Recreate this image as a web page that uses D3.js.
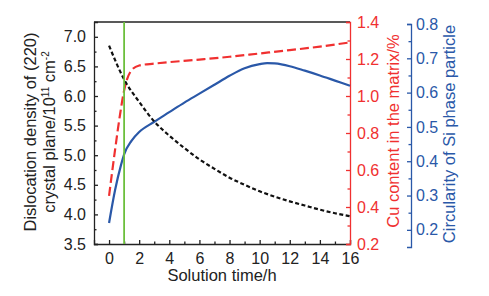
<!DOCTYPE html>
<html>
<head>
<meta charset="UTF-8" />
<title>solution time chart</title>
<script src="https://d3js.org/d3.v7.min.js"></script>
<style>
  body { margin: 0; background: #fff; }
  text { font-family: "Liberation Sans", Arial, sans-serif; }
</style>
</head>
<body>
<svg id="chart" width="489" height="296"></svg>
<script>
// data
var timeDis = [0, 1, 2, 3, 4, 5, 6, 7, 8, 9, 10, 11, 12, 13, 14, 15, 16]
var dislocation = [6.85, 6.28, 5.9, 5.57, 5.33, 5.12, 4.93, 4.77, 4.62, 4.5, 4.39, 4.3, 4.22, 4.15, 4.08, 4.02, 3.97]

var timeCu = [0, 0.4, 0.73, 1, 1.5, 2, 3, 4, 6, 8, 10, 12, 14, 16]
var cuContent = [0.46, 0.71, 0.9, 1.03, 1.14, 1.165, 1.175, 1.183, 1.197, 1.212, 1.23, 1.248, 1.267, 1.29]

var timeCirc = [0, 0.4, 0.8, 1, 1.5, 2, 3, 4, 5, 6, 7, 8, 9, 10, 10.5, 11, 12, 13, 14, 15, 16]
var circularity = [0.22, 0.316, 0.39, 0.42, 0.46, 0.485, 0.515, 0.543, 0.571, 0.597, 0.623, 0.649, 0.671, 0.683, 0.686, 0.685, 0.677, 0.664, 0.65, 0.635, 0.62]

var markTime = 1

var xTicks = [0, 2, 4, 6, 8, 10, 12, 14, 16]
var xMinor = [1, 3, 5, 7, 9, 11, 13, 15]
var leftTicks = [3.5, 4.0, 4.5, 5.0, 5.5, 6.0, 6.5, 7.0]
var leftMinor = [3.75, 4.25, 4.75, 5.25, 5.75, 6.25, 6.75]
var redTicks = [0.2, 0.4, 0.6, 0.8, 1.0, 1.2, 1.4]
var redMinor = [0.3, 0.5, 0.7, 0.9, 1.1, 1.3]
var blueTicks = [0.2, 0.3, 0.4, 0.5, 0.6, 0.7, 0.8]
var blueMinor = [0.25, 0.35, 0.45, 0.55, 0.65, 0.75]

var red = "#f03030", blue = "#2a58a8", green = "#6cbf3c", dark = "#222"

var svg = d3.select("#chart")
var pL = 94, pR = 350, pT = 22, pB = 244

var x = d3.scaleLinear().domain([-1, 16]).range([pL, pR])
var yDis = d3.scaleLinear().domain([3.5, 7.25]).range([pB, pT])
var yCu = d3.scaleLinear().domain([0.2, 1.4]).range([pB, pT])
var yCirc = d3.scaleLinear().domain([0.15, 0.8]).range([247, 24])

// draws an axis with major + minor ticks in one colour
function drawAxis(axisFn, scale, pos, major, minor, fmt, pad, color) {
  var g = svg.append("g").attr("transform", pos)
  g.append("g").call(axisFn(scale).tickValues(major).tickSize(-4).tickPadding(pad).tickFormat(fmt))
  g.append("g").call(axisFn(scale).tickValues(minor).tickSize(-2.5).tickFormat(""))
    .call(s => s.select(".domain").remove())
  g.selectAll("path,line").style("stroke", color).style("stroke-width", 1.3)
  g.selectAll("text").style("fill", color).style("font-size", "16px")
  return g
}

// top frame line
svg.append("line").attr("x1", pL).attr("x2", pR).attr("y1", pT).attr("y2", pT)
  .style("stroke", dark).style("stroke-width", 1.3)

drawAxis(d3.axisBottom, x, `translate(0,${pB})`, xTicks, xMinor, d3.format("d"), 9, dark)
drawAxis(d3.axisLeft, yDis, `translate(${pL},0)`, leftTicks, leftMinor, d3.format(".1f"), 8, dark)
drawAxis(d3.axisRight, yCu, `translate(${pR},0)`, redTicks, redMinor, d3.format(".1f"), 7, red)
drawAxis(d3.axisRight, yCirc, `translate(411,0)`, blueTicks, blueMinor, d3.format(".1f"), 5, blue)

// curves
var lineDis = d3.line().x(d => x(d[0])).y(d => yDis(d[1])).curve(d3.curveMonotoneX)
var lineCu = d3.line().x(d => x(d[0])).y(d => yCu(d[1])).curve(d3.curveMonotoneX)
var lineCirc = d3.line().x(d => x(d[0])).y(d => yCirc(d[1])).curve(d3.curveMonotoneX)

svg.append("path").datum(d3.zip(timeCirc, circularity))
  .attr("d", lineCirc).style("fill", "none").style("stroke", blue).style("stroke-width", 2.2)
svg.append("path").datum(d3.zip(timeCu, cuContent))
  .attr("d", lineCu).style("fill", "none").style("stroke", red).style("stroke-width", 2.2)
  .style("stroke-dasharray", "9,4")
svg.append("path").datum(d3.zip(timeDis, dislocation))
  .attr("d", lineDis).style("fill", "none").style("stroke", "#111").style("stroke-width", 2.2)
  .style("stroke-dasharray", "4,2.5")

// green marker line
svg.append("line").attr("x1", x(markTime)).attr("x2", x(markTime)).attr("y1", pT).attr("y2", pB)
  .style("stroke", green).style("stroke-width", 1.8)

// titles
svg.append("text").attr("x", 222).attr("y", 281).attr("text-anchor", "middle")
  .style("font-size", "16.5px").style("fill", dark).text("Solution time/h")

var lt = svg.append("text").attr("transform", "translate(36,132) rotate(-90)")
  .attr("text-anchor", "middle").style("font-size", "16.5px").style("fill", dark)
lt.append("tspan").attr("x", 0).attr("y", 0).text("Dislocation density of (220)")
var l2 = lt.append("tspan").attr("x", 0).attr("y", 19)
l2.append("tspan").text("crystal plane/10")
l2.append("tspan").attr("dy", -6).style("font-size", "10px").text("11")
l2.append("tspan").attr("dy", 6).text(" cm")
l2.append("tspan").attr("dy", -6).style("font-size", "10px").text("-2")

svg.append("text").attr("transform", "translate(399,131) rotate(-90)")
  .attr("text-anchor", "middle").style("font-size", "16.5px").style("fill", red)
  .text("Cu content in the matrix/%")
svg.append("text").attr("transform", "translate(455,134) rotate(-90)")
  .attr("text-anchor", "middle").style("font-size", "16.5px").style("fill", blue)
  .text("Circularity of Si phase particle")
</script>
</body>
</html>
